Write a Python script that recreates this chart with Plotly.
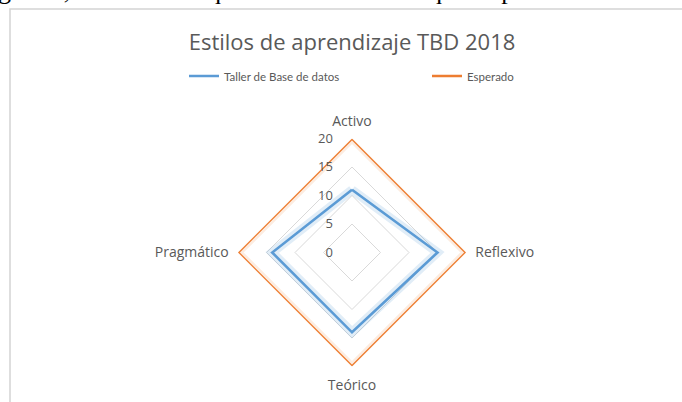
import plotly.graph_objects as go

categories = ["Activo", "Reflexivo", "Teórico", "Pragmático"]
taller = [11, 15, 14, 14]
esperado = [20, 20, 20, 20]
series_names = ["Taller de Base de datos", "Esperado"]
radial_ticks = [0, 5, 10, 15, 20]

W, H = 682, 402
cx, cy, R = 352, 252.5, 114

def closed(v):
    return list(v) + [v[0]]

cats = closed(categories)
blue = "#5B9BD5"
orange = "#ED7D31"
font_fam = "'Open Sans', Lato, sans-serif"
gray = "#595959"

fig = go.Figure()
# soft glow behind lines
fig.add_trace(go.Scatterpolar(r=closed(esperado), theta=cats, mode="lines",
                              line=dict(color="rgba(237,125,49,0.15)", width=8),
                              showlegend=False, hoverinfo="skip"))
fig.add_trace(go.Scatterpolar(r=closed(taller), theta=cats, mode="lines",
                              line=dict(color="rgba(91,155,213,0.18)", width=9),
                              showlegend=False, hoverinfo="skip"))
fig.add_trace(go.Scatterpolar(r=closed(taller), theta=cats, mode="lines",
                              name=series_names[0], line=dict(color=blue, width=2.6)))
fig.add_trace(go.Scatterpolar(r=closed(esperado), theta=cats, mode="lines",
                              name=series_names[1], line=dict(color=orange, width=2.6)))

fig.update_layout(
    width=W, height=H,
    margin=dict(l=0, r=0, t=0, b=0, autoexpand=False),
    paper_bgcolor="white",
    plot_bgcolor="white",
    font=dict(family=font_fam, color=gray),
    title=dict(text="Estilos de aprendizaje TBD 2018", x=352 / W, xanchor="center",
               y=1 - 42 / H, yanchor="middle", xref="paper", yref="paper",
               font=dict(size=22, color=gray, family=font_fam)),
    legend=dict(orientation="h", x=184 / W, xanchor="left", y=1 - 76 / H, yanchor="middle",
                font=dict(size=11.5, color=gray, family="Lato, sans-serif"),
                itemwidth=30, entrywidth=198,
                bgcolor="rgba(0,0,0,0)"),
    polar=dict(
        domain=dict(x=[(cx - R) / W, (cx + R) / W], y=[(H - cy - R) / H, (H - cy + R) / H]),
        gridshape="linear",
        bgcolor="white",
        radialaxis=dict(range=[0, 20], tickvals=radial_ticks, showline=False,
                        ticks="outside", ticklen=14, tickcolor="rgba(0,0,0,0)",
                        gridcolor="#d9d9d9", gridwidth=1, angle=90, tickangle=90,
                        side="counterclockwise",
                        tickfont=dict(size=13, color=gray)),
        angularaxis=dict(rotation=90, direction="clockwise", showgrid=False, showline=False,
                         ticks="outside", ticklen=6, tickcolor="rgba(0,0,0,0)",
                         tickfont=dict(size=14, color=gray)),
    ),
    shapes=[dict(type="rect", xref="paper", yref="paper",
                 x0=10 / W, x1=1.02, y0=-0.01, y1=1 - 9 / H,
                 line=dict(color="#d4d4d4", width=1.5), fillcolor="rgba(0,0,0,0)", layer="below")],
    annotations=[dict(text="gura 6, cabe aclarar que el máximo valor que se puede obtener el",
                      xref="paper", yref="paper", x=-4 / W, xanchor="left",
                      y=1 - 7 / H, yanchor="bottom", showarrow=False,
                      font=dict(family="Liberation Serif, serif", size=26, color="black"))],
)

fig.write_html("out.html", config={"displayModeBar": False},
               post_script="document.body.style.margin='0';document.body.style.overflow='hidden';")
